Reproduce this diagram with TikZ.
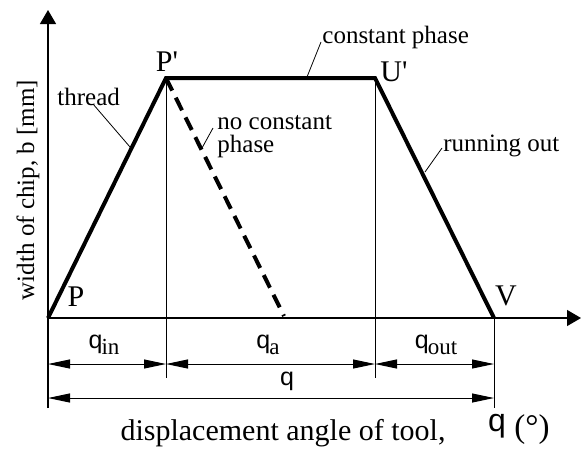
\documentclass[tikz,border=0pt]{standalone}
\usepackage{fontspec}
\setmainfont{Liberation Serif}
\setsansfont{Liberation Sans}
\usetikzlibrary{arrows.meta}
\newcommand{\qsym}{\textsf{q}}
\newcommand{\qsub}[1]{\qsym\kern-0.5pt\raisebox{-0.5ex}{\fontsize{11.5}{12}\selectfont #1}}
\tikzset{
  curve/.style={line width=2pt},
  thin line/.style={line width=0.5pt},
  dimline/.style={line width=0.5pt, {Triangle[length=11pt,width=4.5pt]}-{Triangle[length=11pt,width=4.5pt]}},
  axis/.style={line width=0.6pt, -{Triangle[length=7pt,width=8pt]}},
  leader/.style={line width=0.4pt},
  lbl/.style={inner sep=0pt, font=\fontsize{12.5}{11.5}\selectfont},
  ptlbl/.style={inner sep=0pt, font=\fontsize{15}{16}\selectfont},
  axlbl/.style={inner sep=0pt, font=\fontsize{15}{16}\selectfont}
}
\begin{document}
\begin{tikzpicture}[x=0.5pt, y=-0.5pt, line cap=butt, line join=miter]
  \useasboundingbox (0,0) rectangle (581,461);
  % points of the curve
  \coordinate (P) at (48,318);
  \coordinate (Pp) at (166,78);
  \coordinate (Up) at (375,78);
  \coordinate (V) at (494,318);
  \coordinate (D) at (284,316);

  % axes
  \coordinate (ybot) at (48,408);
  \coordinate (ytop) at (48,10);
  \coordinate (xend) at (581,318);
  \draw[axis] (ybot) -- (ytop);
  \draw[axis] (P) -- (xend);

  % vertical guide lines
  \coordinate (Ppb) at (166,378);
  \coordinate (Upb) at (375,378);
  \coordinate (Vb) at (494,408);
  \draw[thin line] (Pp) -- (Ppb);
  \draw[thin line] (Up) -- (Upb);
  \draw[thin line] (V) -- (Vb);

  % dimension lines
  \coordinate (d1) at (48,364);
  \coordinate (d2) at (166,364);
  \coordinate (d3) at (375,364);
  \coordinate (d4) at (494,364);
  \coordinate (e1) at (48,398);
  \coordinate (e2) at (494,398);
  \draw[dimline] (d1) -- (d2);
  \draw[dimline] (d2) -- (d3);
  \draw[dimline] (d3) -- (d4);
  \draw[dimline] (e1) -- (e2);

  % curve
  \draw[curve] (P) -- (Pp) -- (Up) -- (V);
  \draw[curve, dash pattern=on 7pt off 4pt] (Pp) -- (D);

  % point labels
  \node[ptlbl] (lP) at (76,297) {P};
  \node[ptlbl] (lPp) at (167,62) {P\textquotesingle};
  \node[ptlbl] (lUp) at (394,72) {U\textquotesingle};
  \node[ptlbl] (lV) at (506,296) {V};

  % phase labels with leaders
  \node[lbl, anchor=west] (thread) at (57,97) {thread};
  \coordinate (tA) at (130,147);
  \draw[leader] (93,104) -- (tA);
  \node[lbl, anchor=west, align=left] (nocp) at (217,137) {no constant\\phase};
  \coordinate (nA) at (202,148);
  \draw[leader] (213,128) -- (nA);
  \node[lbl, anchor=west] (cphase) at (322,37) {constant phase};
  \coordinate (cA) at (307,77);
  \draw[leader] (321,42) -- (cA);
  \node[lbl, anchor=west] (runout) at (443,146) {running out};
  \coordinate (rA) at (425,172);
  \draw[leader] (442,148) -- (rA);

  % dimension labels
  \node[lbl] (qin) at (104,345) {\qsub{in}};
  \node[lbl] (qa) at (268,345) {\qsub{a}};
  \node[lbl] (qout) at (436,345) {\qsub{out}};
  \node[lbl] (qq) at (287,381) {\qsym};

  % axis titles
  \node[lbl, rotate=90] (ylab) at (28,190) {width of chip, b [mm]};
  \node[axlbl] (xlab) at (283,433) {displacement angle of tool,};
  \node[axlbl, font=\fontsize{16}{17}\selectfont] (xq) at (497,426) {\qsym};
  \node[axlbl, font=\fontsize{16.5}{17}\selectfont] (xdeg) at (532,430) {(°)};
\end{tikzpicture}
\end{document}
